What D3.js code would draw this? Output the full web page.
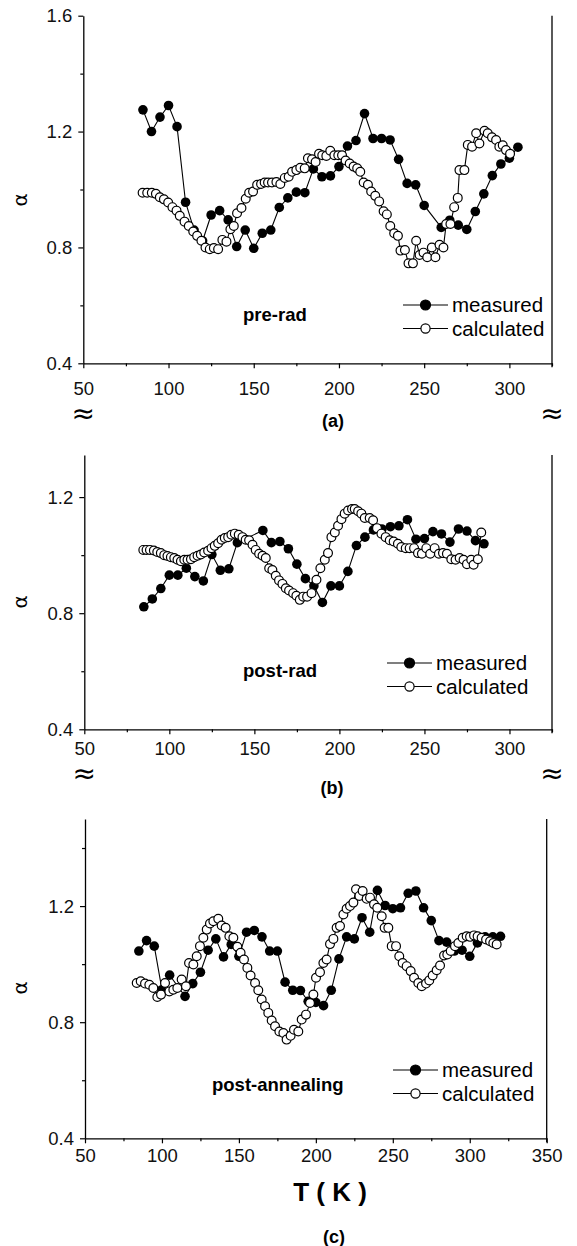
<!DOCTYPE html>
<html>
<head>
<meta charset="utf-8">
<script src="https://cdn.jsdelivr.net/npm/d3@7"></script>
<style>
  body { margin: 0; background: #fff; }
  svg { display: block; font-family: "Liberation Sans", Arial, sans-serif; }
</style>
</head>
<body>
<svg id="chart" width="577" height="1246"></svg>
<script>
// panel (a) pre-rad
const preRadMeasuredT = [85, 90, 95, 100, 105, 110, 115, 120, 125, 130, 135, 140, 145, 150, 155, 160, 165, 170, 175, 180, 185, 190, 195, 200, 205, 210, 215, 220, 225, 230, 235, 240, 245, 250, 260, 265, 270, 275, 280, 285, 290, 295, 300, 305];
const preRadMeasured = [1.275, 1.2, 1.25, 1.29, 1.217, 0.956, 0.86, 0.823, 0.912, 0.927, 0.895, 0.803, 0.86, 0.797, 0.849, 0.86, 0.938, 0.971, 0.991, 0.989, 1.071, 1.044, 1.047, 1.079, 1.15, 1.169, 1.262, 1.176, 1.176, 1.171, 1.104, 1.021, 1.016, 0.945, 0.869, 0.894, 0.877, 0.862, 0.924, 0.985, 1.048, 1.088, 1.108, 1.146];
const preRadCalcT = [84.8, 87.5, 90.2, 92.6, 94.9, 97.3, 99.8, 102.3, 104.7, 106.6, 109.4, 111.9, 114.5, 116.8, 119.3, 121.7, 124.2, 126.6, 129.1, 131.6, 134.0, 136.3, 138.3, 140.2, 142.8, 145.3, 147.3, 149.6, 152.0, 154.3, 156.4, 158.4, 160.7, 163.3, 165.6, 168.2, 170.5, 172.5, 175.0, 177.3, 179.9, 181.8, 184.2, 186.3, 188.3, 190.2, 192.6, 194.9, 197.3, 199.6, 201.8, 203.9, 206.3, 208.6, 210.7, 212.5, 214.5, 217.0, 218.9, 221.3, 223.6, 226.2, 228.1, 230.1, 232.4, 234.6, 236.1, 238.7, 240.8, 243.4, 245.3, 247.3, 249.6, 251.8, 254.5, 256.6, 259.0, 261.3, 262.9, 265.4, 267.6, 269.7, 270.7, 273.6, 275.6, 278.1, 280.5, 282.4, 285.4, 287.3, 289.8, 292.2, 294.1, 296.1, 298.0, 300.4];
const preRadCalc = [0.989, 0.989, 0.989, 0.985, 0.973, 0.966, 0.955, 0.939, 0.927, 0.909, 0.889, 0.874, 0.855, 0.840, 0.823, 0.800, 0.794, 0.798, 0.794, 0.826, 0.820, 0.863, 0.874, 0.918, 0.936, 0.968, 0.989, 0.993, 1.016, 1.019, 1.024, 1.024, 1.024, 1.026, 1.019, 1.040, 1.044, 1.061, 1.067, 1.075, 1.073, 1.108, 1.104, 1.095, 1.123, 1.118, 1.116, 1.134, 1.118, 1.118, 1.118, 1.100, 1.090, 1.079, 1.073, 1.061, 1.024, 1.016, 0.993, 0.978, 0.959, 0.925, 0.914, 0.874, 0.849, 0.840, 0.789, 0.791, 0.745, 0.745, 0.823, 0.774, 0.782, 0.766, 0.800, 0.766, 0.809, 0.800, 0.881, 0.881, 0.939, 0.971, 1.067, 1.067, 1.154, 1.148, 1.194, 1.159, 1.203, 1.194, 1.180, 1.171, 1.148, 1.153, 1.136, 1.123];

// panel (b) post-rad
const postRadMeasuredT = [85, 90, 95, 100, 105, 110, 115, 120, 125, 130, 135, 140, 155, 160, 165, 170, 175, 180, 185, 190, 195, 200, 205, 210, 215, 220, 225, 230, 235, 240, 245, 250, 255, 260, 265, 270, 275, 280, 285];
const postRadMeasured = [0.822, 0.849, 0.885, 0.931, 0.931, 0.955, 0.926, 0.911, 1.002, 0.948, 0.953, 1.043, 1.085, 1.043, 1.047, 1.022, 0.969, 0.919, 0.894, 0.837, 0.894, 0.894, 0.944, 1.033, 1.062, 1.087, 1.09, 1.098, 1.101, 1.122, 1.055, 1.057, 1.081, 1.073, 1.045, 1.09, 1.083, 1.05, 1.039];
const postRadCalcT = [84.7, 86.6, 88.6, 90.9, 92.9, 95.0, 97.0, 98.9, 100.9, 102.9, 104.8, 106.8, 108.8, 110.7, 112.7, 114.6, 116.6, 118.5, 120.5, 122.8, 124.8, 126.7, 128.7, 130.7, 132.6, 134.6, 136.5, 138.5, 140.8, 143.0, 144.9, 146.9, 148.9, 150.8, 152.8, 154.8, 156.7, 158.7, 160.6, 162.6, 164.5, 166.5, 168.5, 170.4, 172.8, 174.7, 176.7, 178.7, 181.0, 183.6, 186.5, 188.8, 191.4, 193.3, 195.3, 197.3, 199.2, 201.2, 203.1, 205.1, 207.4, 209.0, 211.0, 212.9, 214.9, 217.8, 219.8, 222.1, 224.7, 227.2, 229.6, 231.9, 234.4, 236.4, 239.0, 241.3, 243.9, 246.2, 248.5, 251.1, 253.4, 256.0, 258.5, 260.9, 263.2, 265.8, 268.3, 270.7, 273.0, 275.0, 277.5, 278.9, 281.4, 283.4];
const postRadCalc = [1.018, 1.018, 1.018, 1.016, 1.011, 1.007, 1.000, 0.997, 0.993, 0.990, 0.984, 0.979, 0.984, 0.984, 0.986, 0.993, 0.998, 1.002, 1.009, 1.015, 1.024, 1.032, 1.041, 1.053, 1.059, 1.062, 1.070, 1.074, 1.070, 1.062, 1.053, 1.051, 1.036, 1.018, 1.005, 0.998, 0.990, 0.955, 0.949, 0.929, 0.913, 0.901, 0.886, 0.878, 0.869, 0.860, 0.846, 0.857, 0.857, 0.869, 0.915, 0.955, 0.984, 1.007, 1.062, 1.078, 1.101, 1.124, 1.143, 1.154, 1.159, 1.159, 1.151, 1.143, 1.128, 1.128, 1.120, 1.093, 1.074, 1.062, 1.051, 1.047, 1.039, 1.028, 1.024, 1.024, 1.024, 1.007, 1.005, 1.024, 1.005, 1.024, 1.005, 1.007, 1.005, 0.986, 0.984, 0.990, 0.984, 0.969, 0.984, 0.967, 0.986, 1.078];

// panel (c) post-annealing
const postAnnMeasuredT = [85, 90, 95, 100, 105, 115, 120, 125, 130, 135, 140, 145, 150, 155, 160, 165, 170, 175, 180, 185, 190, 195, 200, 205, 210, 215, 220, 225, 230, 235, 240, 245, 250, 255, 260, 265, 270, 275, 280, 285, 290, 295, 300, 305, 310, 315, 320];
const postAnnMeasured = [1.045, 1.081, 1.062, 0.912, 0.962, 0.889, 0.933, 0.972, 1.048, 1.087, 1.025, 1.068, 1.027, 1.11, 1.116, 1.094, 1.045, 1.045, 0.938, 0.91, 0.909, 0.872, 0.868, 0.857, 0.91, 1.018, 1.094, 1.087, 1.16, 1.11, 1.254, 1.202, 1.191, 1.194, 1.244, 1.252, 1.194, 1.15, 1.081, 1.076, 1.045, 1.048, 1.027, 1.073, 1.094, 1.094, 1.096];
const postAnnCalcT = [83.6, 86.2, 89.0, 91.8, 94.4, 97.0, 99.4, 102.0, 104.8, 107.4, 110.0, 112.8, 115.6, 117.6, 120.4, 122.6, 124.7, 126.9, 129.1, 131.2, 133.4, 136.6, 138.8, 141.4, 143.8, 146.4, 149.0, 151.1, 153.3, 155.5, 157.6, 160.5, 162.6, 164.8, 167.0, 169.1, 171.3, 173.5, 176.3, 178.9, 181.0, 183.6, 185.8, 188.6, 190.8, 193.6, 196.2, 198.4, 200.1, 202.7, 204.9, 207.0, 209.2, 211.4, 213.5, 215.7, 217.9, 220.0, 222.2, 224.4, 226.1, 228.3, 230.4, 233.0, 235.2, 237.8, 239.9, 242.8, 244.7, 247.1, 249.3, 252.1, 254.2, 256.4, 259.0, 261.6, 263.8, 266.6, 268.8, 271.6, 273.7, 275.9, 278.5, 280.7, 283.3, 285.4, 287.6, 290.4, 292.6, 295.4, 298.0, 300.2, 302.8, 305.1, 307.7, 310.6, 313.2, 315.3, 317.5];
const postAnnCalc = [0.935, 0.941, 0.933, 0.929, 0.918, 0.887, 0.895, 0.935, 0.906, 0.912, 0.918, 0.947, 0.924, 1.004, 0.999, 1.027, 1.062, 1.091, 1.119, 1.140, 1.148, 1.156, 1.133, 1.125, 1.096, 1.091, 1.060, 1.039, 1.016, 0.987, 0.961, 0.935, 0.910, 0.878, 0.855, 0.832, 0.806, 0.786, 0.768, 0.763, 0.740, 0.753, 0.774, 0.768, 0.809, 0.826, 0.866, 0.895, 0.953, 0.972, 1.004, 1.016, 1.069, 1.087, 1.125, 1.131, 1.171, 1.191, 1.200, 1.212, 1.258, 1.235, 1.252, 1.225, 1.229, 1.206, 1.194, 1.165, 1.125, 1.125, 1.062, 1.062, 1.027, 1.004, 0.993, 0.976, 0.953, 0.935, 0.924, 0.933, 0.944, 0.961, 0.979, 0.995, 1.030, 1.033, 1.045, 1.062, 1.073, 1.091, 1.096, 1.094, 1.099, 1.096, 1.091, 1.085, 1.079, 1.073, 1.068];

const xTicksShort = [50, 100, 150, 200, 250, 300];
const xTicksLong = [50, 100, 150, 200, 250, 300, 350];
const yTicks = [0.4, 0.8, 1.2, 1.6];
const yMinor = [0.6, 1.0, 1.4];
const seriesNames = ["measured", "calculated"];

const svg = d3.select("#chart");

function zip(xs, ys) {
  return xs.map((x, i) => ({ x: x, y: ys[i] }));
}

function drawPanel(p) {
  const x = d3.scaleLinear().domain(p.xDomain).range([p.left, p.right]);
  const y = d3.scaleLinear().domain(p.yDomain).range([p.bottom, p.top]);
  const g = svg.append("g");

  // bottom axis
  const xAxis = d3.axisBottom(x)
    .tickValues(p.xTicks.filter((t) => t <= p.xDomain[1]))
    .tickFormat(d3.format("d"))
    .tickSizeInner(5).tickSizeOuter(0).tickPadding(p.xPad);
  g.append("g").attr("transform", `translate(0,${p.bottom})`).call(xAxis);
  const xMinor = d3.range(p.xDomain[0] + 25, p.xDomain[1] + 1, 50);
  g.append("g").attr("transform", `translate(0,${p.bottom})`)
    .call(d3.axisBottom(x).tickValues(xMinor).tickSize(3).tickFormat("").tickSizeOuter(0))
    .select(".domain").remove();

  // left axis
  const yAxis = d3.axisLeft(y)
    .tickValues(yTicks.filter((t) => t <= p.yDomain[1]))
    .tickFormat(d3.format(".1f"))
    .tickSizeInner(5).tickSizeOuter(0).tickPadding(6);
  g.append("g").attr("transform", `translate(${p.left},0)`).call(yAxis);
  g.append("g").attr("transform", `translate(${p.left},0)`)
    .call(d3.axisLeft(y).tickValues(yMinor.filter((t) => t <= p.yDomain[1])).tickSize(3).tickFormat("").tickSizeOuter(0))
    .select(".domain").remove();

  // right frame line
  g.append("line")
    .attr("x1", p.right).attr("x2", p.right)
    .attr("y1", p.top).attr("y2", p.bottom + 4)
    .attr("stroke", "#000").attr("stroke-width", 1.3);

  g.selectAll(".domain").attr("stroke-width", 1.3);
  g.selectAll(".tick line").attr("stroke-width", 1.2);
  g.selectAll(".tick text").attr("font-size", 18.5).attr("fill", "#111")
    .attr("font-family", "Liberation Sans, Arial, sans-serif");

  const line = d3.line().x((d) => x(d.x)).y((d) => y(d.y));
  const meas = zip(p.measT, p.meas);
  const calc = zip(p.calcT, p.calc);

  g.append("path").datum(meas).attr("d", line)
    .attr("fill", "none").attr("stroke", "#000").attr("stroke-width", 1.1);
  g.selectAll(".m").data(meas).enter().append("circle")
    .attr("cx", (d) => x(d.x)).attr("cy", (d) => y(d.y)).attr("r", 4.8)
    .attr("fill", "#000");

  g.append("path").datum(calc).attr("d", line)
    .attr("fill", "none").attr("stroke", "#000").attr("stroke-width", 1.1);
  g.selectAll(".c").data(calc).enter().append("circle")
    .attr("cx", (d) => x(d.x)).attr("cy", (d) => y(d.y)).attr("r", 4.4)
    .attr("fill", "#fff").attr("stroke", "#000").attr("stroke-width", 1.2);

  // y label
  g.append("text")
    .attr("transform", `translate(${p.alphaX},${p.alphaY}) rotate(-90)`)
    .attr("text-anchor", "middle").attr("font-size", 20)
    .attr("font-family", "DejaVu Sans, sans-serif")
    .text("α");

  // condition label
  g.append("text")
    .attr("x", p.tagX).attr("y", p.tagY)
    .attr("font-size", 18.5).attr("font-weight", "bold")
    .text(p.tag);

  // legend
  seriesNames.forEach((name, i) => {
    const ly = p.legY + i * 23.5;
    g.append("line")
      .attr("x1", p.legX).attr("x2", p.legX + 45)
      .attr("y1", ly).attr("y2", ly)
      .attr("stroke", "#000").attr("stroke-width", 1.2);
    g.append("circle")
      .attr("cx", p.legX + 22.5).attr("cy", ly)
      .attr("r", i === 0 ? 5 : 4.6)
      .attr("fill", i === 0 ? "#000" : "#fff")
      .attr("stroke", "#000").attr("stroke-width", 1.2);
    g.append("text")
      .attr("x", p.legX + 49).attr("y", ly + 7)
      .attr("font-size", 20.5)
      .text(name);
  });

  // axis break marks
  if (p.breaks) {
    [p.left, p.right].forEach((bx) => {
      g.append("text")
        .attr("x", bx).attr("y", p.breakY)
        .attr("text-anchor", "middle").attr("font-size", 28)
        .attr("font-family", "DejaVu Sans, sans-serif")
        .text("≈");
    });
  }

  // panel caption
  g.append("text")
    .attr("x", p.capX).attr("y", p.capY)
    .attr("text-anchor", "middle")
    .attr("font-size", 18).attr("font-weight", "bold")
    .text(p.caption);
}

drawPanel({
  xDomain: [50, 325], yDomain: [0.4, 1.6],
  left: 83.3, right: 552, top: 15.7, bottom: 363.3,
  xTicks: xTicksShort, xPad: 14,
  measT: preRadMeasuredT, meas: preRadMeasured,
  calcT: preRadCalcT, calc: preRadCalc,
  alphaX: 27, alphaY: 200,
  tag: "pre-rad", tagX: 243, tagY: 321,
  legX: 403, legY: 305,
  breaks: true, breakY: 423,
  caption: "(a)", capX: 333, capY: 427
});

drawPanel({
  xDomain: [50, 325], yDomain: [0.4, 1.345],
  left: 84.3, right: 552, top: 455, bottom: 729.3,
  xTicks: xTicksShort, xPad: 8,
  measT: postRadMeasuredT, meas: postRadMeasured,
  calcT: postRadCalcT, calc: postRadCalc,
  alphaX: 27, alphaY: 602,
  tag: "post-rad", tagX: 243, tagY: 677,
  legX: 387, legY: 663,
  breaks: true, breakY: 783,
  caption: "(b)", capX: 332, capY: 794
});

drawPanel({
  xDomain: [50, 350], yDomain: [0.4, 1.5],
  left: 85, right: 546.7, top: 819, bottom: 1138.3,
  xTicks: xTicksLong, xPad: 6,
  measT: postAnnMeasuredT, meas: postAnnMeasured,
  calcT: postAnnCalcT, calc: postAnnCalc,
  alphaX: 27, alphaY: 988,
  tag: "post-annealing", tagX: 212, tagY: 1091,
  legX: 393, legY: 1070,
  breaks: false,
  caption: "(c)", capX: 334, capY: 1243
});

svg.append("text")
  .attr("x", 330).attr("y", 1201)
  .attr("text-anchor", "middle")
  .attr("font-size", 26).attr("font-weight", "bold")
  .attr("xml:space", "preserve")
  .text("T ( K )");
</script>
</body>
</html>
